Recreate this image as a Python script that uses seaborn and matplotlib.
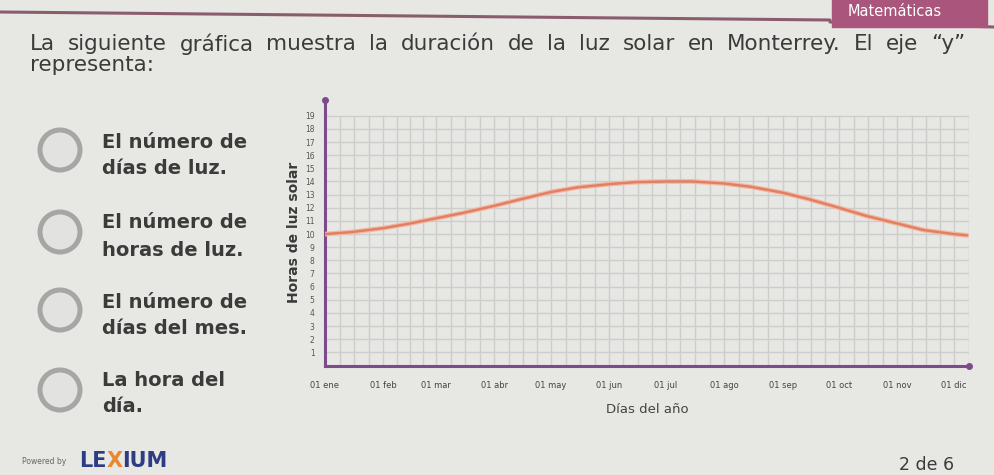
import numpy as np
import pandas as pd
import matplotlib
matplotlib.use("Agg")
import matplotlib.pyplot as plt
import seaborn as sns
from matplotlib.patches import Ellipse, Rectangle
from matplotlib.lines import Line2D

# ---------------- data ----------------
fechas = ["2021-01-01", "2021-01-15", "2021-02-01", "2021-02-15", "2021-03-01", "2021-03-15",
          "2021-04-01", "2021-04-15", "2021-05-01", "2021-05-15", "2021-06-01", "2021-06-15",
          "2021-07-01", "2021-07-15", "2021-08-01", "2021-08-15", "2021-09-01", "2021-09-15",
          "2021-10-01", "2021-10-15", "2021-11-01", "2021-11-15", "2021-12-01", "2021-12-08"]
horas = [10.0, 10.15, 10.45, 10.8, 11.2, 11.6,
         12.15, 12.65, 13.2, 13.55, 13.8, 13.95,
         14.0, 14.0, 13.85, 13.6, 13.15, 12.65,
         12.0, 11.4, 10.8, 10.3, 10.0, 9.9]
meses = ["01 ene", "01 feb", "01 mar", "01 abr", "01 may", "01 jun",
         "01 jul", "01 ago", "01 sep", "01 oct", "01 nov", "01 dic"]
y_ticks = list(range(1, 20))

titulo = "La siguiente gráfica muestra la duración de la luz solar en Monterrey. El eje “y”"
titulo2 = "representa:"
opciones = [("El número de", "días de luz."),
            ("El número de", "horas de luz."),
            ("El número de", "días del mes."),
            ("La hora del", "día.")]

# ---------------- style ----------------
sns.set_theme(style="white")
plt.rcParams['font.family'] = ['DejaVu Sans']

W, H = 994, 475
BG = "#e7e7e4"
PURPLE = "#7d4a8c"
LINE = "#e07f62"
GRID = "#cdcdcb"
TXT = "#3b3b3b"

def P(x, y):
    return (x / W, 1 - y / H)

fig = plt.figure(figsize=(W / 100, H / 100), dpi=100)
fig.patch.set_facecolor(BG)

start = pd.Timestamp("2021-01-01")
df = pd.DataFrame({"dia": (pd.to_datetime(fechas) - start).days, "horas": horas})
month_pos = (pd.date_range(start, periods=12, freq="MS") - start).days.values

x0, x1 = 325, 969
y0, ytop = 365.5, 100
ax = fig.add_axes([x0 / W, 1 - y0 / H, (x1 - x0) / W, (y0 - ytop) / H])
ax.set_facecolor("none")
xmax = 342
ax.set_xlim(0, xmax)
ax.set_ylim(0, 20.2)

# grid: horizontal per hour, vertical four per month
ax.hlines(y_ticks, 0, xmax, color=GRID, lw=1.0, zorder=0)
edges = list(month_pos) + [365]
vg = []
for a, b in zip(edges[:-1], edges[1:]):
    vg += list(np.linspace(a, b, 5)[1:])
vg = [v for v in vg if v <= xmax]
ax.vlines(vg, 0, 19, color=GRID, lw=1.0, zorder=0)

sns.lineplot(data=df, x="dia", y="horas", ax=ax, color="#f3b7a2", lw=3.4, zorder=3)
sns.lineplot(data=df, x="dia", y="horas", ax=ax, color=LINE, lw=1.7, zorder=4)

for s in ["top", "right"]:
    ax.spines[s].set_visible(False)
for s in ["left", "bottom"]:
    ax.spines[s].set_color(PURPLE)
    ax.spines[s].set_linewidth(2.2)
ax.plot([0], [1], marker="o", ms=4, color=PURPLE, transform=ax.transAxes, clip_on=False)
ax.plot([1], [0], marker="o", ms=4, color=PURPLE, transform=ax.transAxes, clip_on=False)

ax.set_yticks(y_ticks)
ax.set_yticklabels([str(v) for v in y_ticks], fontsize=5.5, color="#555555")
ax.set_xticks(month_pos)
ax.set_xticklabels(meses, fontsize=6, color="#444444")
ax.tick_params(axis="both", direction="inout", length=9, width=1.5, color=PURPLE)
ax.tick_params(axis="y", pad=3)
ax.tick_params(axis="x", pad=7)
ax.set_xlabel("Días del año", fontsize=9.5, color="#444444", labelpad=9)
ax.set_ylabel("Horas de luz solar", fontsize=10, fontweight="bold", color="#3a3a3a", labelpad=3)

# ---------------- page decoration ----------------
fig.add_artist(Line2D([0, 830 / W], [1 - 12 / H, 1 - 20 / H], color="#8a5d6e", lw=2.2))
fig.add_artist(Line2D([830 / W, 1], [1 - 22 / H, 1 - 27 / H], color="#8a5d6e", lw=2.2))
fig.add_artist(Rectangle(P(832, 27), 155 / W, 27 / H, color="#a9557c", zorder=5))
fig.text(*P(895, 12), "Matemáticas", color="white", fontsize=10.5, ha="center", va="center", zorder=6)

# justified first line of the question
renderer = fig.canvas.get_renderer()
words = titulo.split(" ")
arts = [fig.text(0, 1 - 44 / H, w, fontsize=15.5, color=TXT, ha="left", va="center") for w in words]
widths = [a.get_window_extent(renderer).width for a in arts]
gap = (965 - 30 - sum(widths)) / (len(words) - 1)
xp = 30.0
for a, w in zip(arts, widths):
    a.set_x(xp / W)
    xp += w + gap
fig.text(*P(30, 65), titulo2, fontsize=15.5, color=TXT, ha="left", va="center")

cy = [150, 232, 310, 390]
ly = [(143, 168), (223, 250), (302, 328), (380, 407)]
for (l1, l2), c, (a, b) in zip(opciones, cy, ly):
    fig.add_artist(Ellipse(P(60, c), 40 / W, 40 / H, facecolor="#e2e2e0",
                           edgecolor="#a6a6a6", lw=3.6))
    fig.text(*P(102, a), l1, fontsize=14, fontweight="bold", color=TXT, ha="left", va="center")
    fig.text(*P(102, b), l2, fontsize=14, fontweight="bold", color=TXT, ha="left", va="center")

fig.text(*P(22, 462), "Powered by", fontsize=5.5, color="#666666", ha="left", va="center")
lx = fig.text(*P(79, 461), "LE", fontsize=15, fontweight="bold", color="#2d3d84", ha="left", va="center")
wle = lx.get_window_extent(renderer).width
xx = fig.text(*P(79 + wle, 461), "X", fontsize=15, fontweight="bold", color="#e8892f", ha="left", va="center")
wx = xx.get_window_extent(renderer).width
fig.text(*P(79 + wle + wx, 461), "IUM", fontsize=15, fontweight="bold", color="#2d3d84", ha="left", va="center")
fig.text(*P(899, 465), "2 de 6", fontsize=12.5, color=TXT, ha="left", va="center")

fig.savefig("out.png", dpi=100, facecolor=BG)
